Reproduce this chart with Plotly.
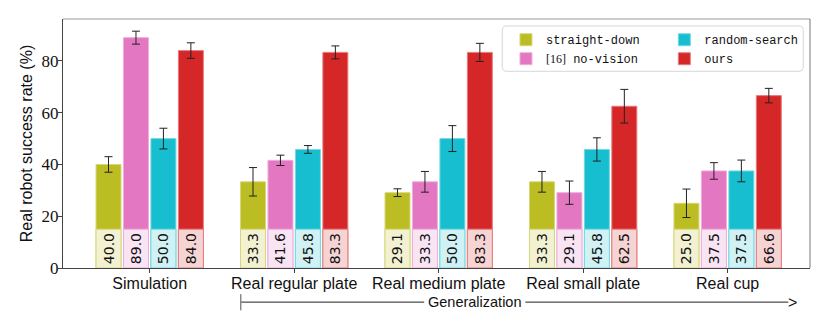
import plotly.graph_objects as go

groups = ["Simulation", "Real regular plate", "Real medium plate", "Real small plate", "Real cup"]

straight_down = [40.0, 33.3, 29.1, 33.3, 25.0]
straight_down_err = [3.0, 5.5, 1.5, 4.0, 5.5]
no_vision = [89.0, 41.6, 33.3, 29.1, 37.5]
no_vision_err = [2.5, 2.0, 4.0, 4.5, 3.2]
random_search = [50.0, 45.8, 50.0, 45.8, 37.5]
random_search_err = [4.0, 1.5, 5.0, 4.5, 4.2]
ours = [84.0, 83.3, 83.3, 62.5, 66.6]
ours_err = [3.0, 2.5, 3.5, 6.5, 2.8]

# name, values, errors, colour, legend column
series = [
    ("straight-down", straight_down, straight_down_err, (188, 189, 34), "legend"),
    ('<span style="font-family:Liberation Serif">[16]</span> no-vision', no_vision, no_vision_err, (227, 119, 194), "legend"),
    ("random-search", random_search, random_search_err, (23, 190, 207), "legend2"),
    ("ours", ours, ours_err, (214, 39, 40), "legend2"),
]

LABEL_H = 15


def tint(c, a):
    # colour c blended with white
    return "rgb(%d,%d,%d)" % tuple(round(255 - a * (255 - v)) for v in c)


fig = go.Figure()
for i, (name, vals, errs, c, leg) in enumerate(series):
    fig.add_trace(go.Bar(
        x=groups, y=vals, name=name, offsetgroup=str(i), legend=leg,
        marker=dict(color="rgb(%d,%d,%d)" % c, line=dict(color=tint(c, 0.6), width=1)),
        error_y=dict(type="data", array=errs, color="#222", thickness=1, width=4),
    ))
for i, (name, vals, errs, c, leg) in enumerate(series):
    fig.add_trace(go.Bar(
        x=groups, y=[LABEL_H] * len(vals), offsetgroup=str(i), showlegend=False,
        marker=dict(color=tint(c, 0.2), line=dict(color=tint(c, 0.6), width=1)),
        text=["%.1f" % v for v in vals], textangle=-90, textposition="inside",
        insidetextanchor="middle", constraintext="none",
        textfont=dict(family="DejaVu Sans", size=14, color="#111"),
        hoverinfo="skip",
    ))

# generalization arrow under the real-world groups
GEN_Y = -0.137
line = dict(color="#222", width=1)
fig.add_shape(type="line", xref="x", yref="paper", x0=0.63, x1=1.90, y0=GEN_Y, y1=GEN_Y, line=line)
fig.add_shape(type="line", xref="x", yref="paper", x0=2.60, x1=4.42, y0=GEN_Y, y1=GEN_Y, line=line)
fig.add_shape(type="line", xref="x", yref="paper", x0=0.63, x1=0.63, y0=-0.105, y1=-0.17,
              line=dict(color="#888", width=1.5))
fig.add_annotation(x=2.25, y=GEN_Y, xref="x", yref="paper", text="Generalization", showarrow=False,
                   yanchor="middle", font=dict(family="Liberation Sans", size=14.5, color="#111"))
fig.add_annotation(x=4.45, y=GEN_Y, xref="x", yref="paper", text="&gt;", showarrow=False,
                   xanchor="center", yanchor="middle",
                   font=dict(family="Liberation Sans", size=16, color="#111"))

# frame on top / right
fig.add_shape(type="line", xref="paper", yref="paper", x0=0, x1=1, y0=1, y1=1, line=dict(color="#999", width=1))
fig.add_shape(type="line", xref="paper", yref="paper", x0=1, x1=1, y0=0, y1=1, line=dict(color="#777", width=1))

# rounded legend frame
x0, x1, y0, y1 = 0.588, 0.991, 0.79, 0.972
rx, ry = 0.006, 0.018
fig.add_shape(
    type="path", xref="paper", yref="paper", layer="above",
    path=(f"M{x0+rx},{y0} L{x1-rx},{y0} Q{x1},{y0} {x1},{y0+ry} L{x1},{y1-ry} Q{x1},{y1} {x1-rx},{y1} "
          f"L{x0+rx},{y1} Q{x0},{y1} {x0},{y1-ry} L{x0},{y0+ry} Q{x0},{y0} {x0+rx},{y0} Z"),
    fillcolor="rgba(255,255,255,0.85)", line=dict(color="#d6d6d6", width=1),
)

legend_style = dict(
    orientation="v", yanchor="top", xanchor="left", y=0.975,
    bgcolor="rgba(0,0,0,0)", borderwidth=0, tracegroupgap=0,
    font=dict(family="Liberation Mono", size=12, color="#111"),
)

# page has an 8px body margin, so the figure is drawn 8px smaller
fig.update_layout(
    width=822, height=324,
    margin=dict(l=55, r=20, t=11, b=64, autoexpand=False),
    barmode="group", bargap=0.24, bargroupgap=0.09,
    plot_bgcolor="white", paper_bgcolor="white",
    font=dict(family="Liberation Sans", color="#111"),
    legend=dict(x=0.593, **legend_style),
    legend2=dict(x=0.805, **legend_style),
    xaxis=dict(
        range=[-0.6, 4.57], showline=True, linecolor="#444", ticks="outside", ticklen=4,
        tickcolor="#444", automargin=False, ticklabelstandoff=-3,
        tickfont=dict(family="Liberation Sans", size=16, color="#111"),
    ),
    yaxis=dict(
        range=[0, 96.2], showline=True, linecolor="#444", ticks="outside", ticklen=4,
        tickcolor="#444", tickvals=[0, 20, 40, 60, 80], showgrid=False, zeroline=False,
        automargin=False, ticklabelstandoff=-4,
        tickfont=dict(family="Liberation Serif", size=17, color="#111"),
        title=dict(text="Real robot success rate (%)", standoff=4,
                   font=dict(family="Liberation Sans", size=16, color="#111")),
    ),
)

fig.write_html("out.html")
